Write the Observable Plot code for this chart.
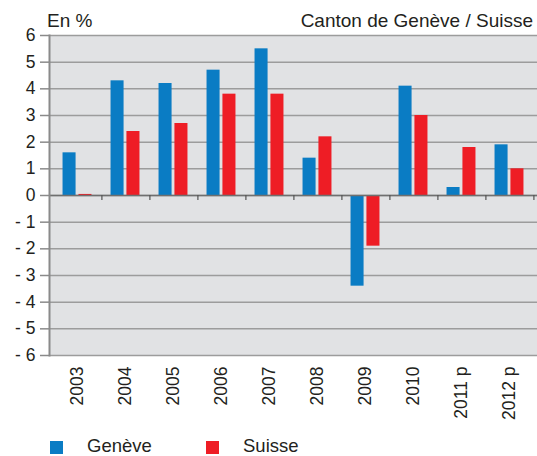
<!DOCTYPE html>
<html><head><meta charset="utf-8">
<script src="https://cdn.jsdelivr.net/npm/d3@7"></script>
<script src="https://cdn.jsdelivr.net/npm/@observablehq/plot@0.6"></script>
<style>
body{margin:0;background:#fff;font-family:"Liberation Sans",Arial,sans-serif;color:#231f20}
#wrap{position:relative;width:537px;height:456px;overflow:hidden}
#wrap svg{position:absolute;left:0;top:0}
.t{position:absolute;line-height:1;white-space:nowrap}
.sw{position:absolute;width:13px;height:13px}
</style></head><body><div id="wrap"></div>
<script>
const years = ["2003","2004","2005","2006","2007","2008","2009","2010","2011 p","2012 p"];
const series = ["Genève","Suisse"];
const geneve = [1.6,4.3,4.2,4.7,5.5,1.4,-3.4,4.1,0.3,1.9];
const suisse = [0.04,2.4,2.7,3.8,3.8,2.2,-1.9,3.0,1.8,1.0];
const yTicks = [-6,-5,-4,-3,-2,-1,0,1,2,3,4,5,6];
const colors = ["#0a7cc4","#ee1d25"];
const titleLeft = "En %";
const titleRight = "Canton de Genève / Suisse";

const rows = years.flatMap((y,i)=>[
  {year:y, series:series[0], value:geneve[i]},
  {year:y, series:series[1], value:suisse[i]}
]);

const W = 537, H = 456, ML = 49, MR = 0, MT = 35, MB = 101;
const step = (W-ML-MR)/years.length;
const inner = d3.scaleBand(series,[0,step]).paddingInner(0.13).paddingOuter(0.6);
const insets = s => ({insetLeft: inner(s), insetRight: step - inner(s) - inner.bandwidth()});

const chart = Plot.plot({
  width: W, height: H,
  marginLeft: ML, marginRight: MR, marginTop: MT, marginBottom: MB,
  style: {fontFamily: '"Liberation Sans", Arial, sans-serif', color: "#231f20", background: "transparent"},
  x: {type: "band", domain: years, padding: 0},
  y: {domain: [-6, 6]},
  color: {domain: series, range: colors},
  marks: [
    Plot.frame({fill: "#e1e2e4"}),
    Plot.gridY(yTicks, {stroke: "#9c9c9c", strokeOpacity: 1, strokeWidth: 1.5}),
    ...series.map(s => Plot.barY(rows.filter(d => d.series === s), {x: "year", y: "value", fill: "series", ...insets(s)})),
    Plot.ruleY([0], {stroke: "#6f6f6f", strokeWidth: 1.5}),
    Plot.ruleX(years, {x: d => d, y1: 0, y2: -0.19, dx: step/2, stroke: "#555", strokeWidth: 1.2}),
    Plot.frame({anchor: "left", stroke: "#8a8a8a", strokeWidth: 2}),
    Plot.axisY({ticks: yTicks, tickSize: 9, tickPadding: 5, fontSize: 17.5,
      tickFormat: d => d < 0 ? "- " + (-d) : String(d), stroke: "#8a8a8a", strokeWidth: 1.5, fill: "#231f20", label: null}),
    Plot.axisX({tickSize: 0, tickRotate: -90, tickPadding: 11, fontSize: 17.5, fill: "#231f20", label: null})
  ]
});
const wrap = document.getElementById("wrap");
wrap.appendChild(chart);

function addText(txt, style){
  const d = document.createElement("div");
  d.className = "t"; d.textContent = txt;
  Object.assign(d.style, style);
  wrap.appendChild(d);
}
addText(titleLeft, {left: "47px", top: "11px", fontSize: "19px"});
addText(titleRight, {right: "4px", top: "11px", fontSize: "19px"});

const legendX = [50, 206];
series.forEach((s,i) => {
  const sw = document.createElement("div");
  sw.className = "sw";
  Object.assign(sw.style, {left: legendX[i] + "px", top: "441px", background: colors[i]});
  wrap.appendChild(sw);
  addText(s, {left: (legendX[i] + 37) + "px", top: "437px", fontSize: "18.5px"});
});
</script></body></html>
